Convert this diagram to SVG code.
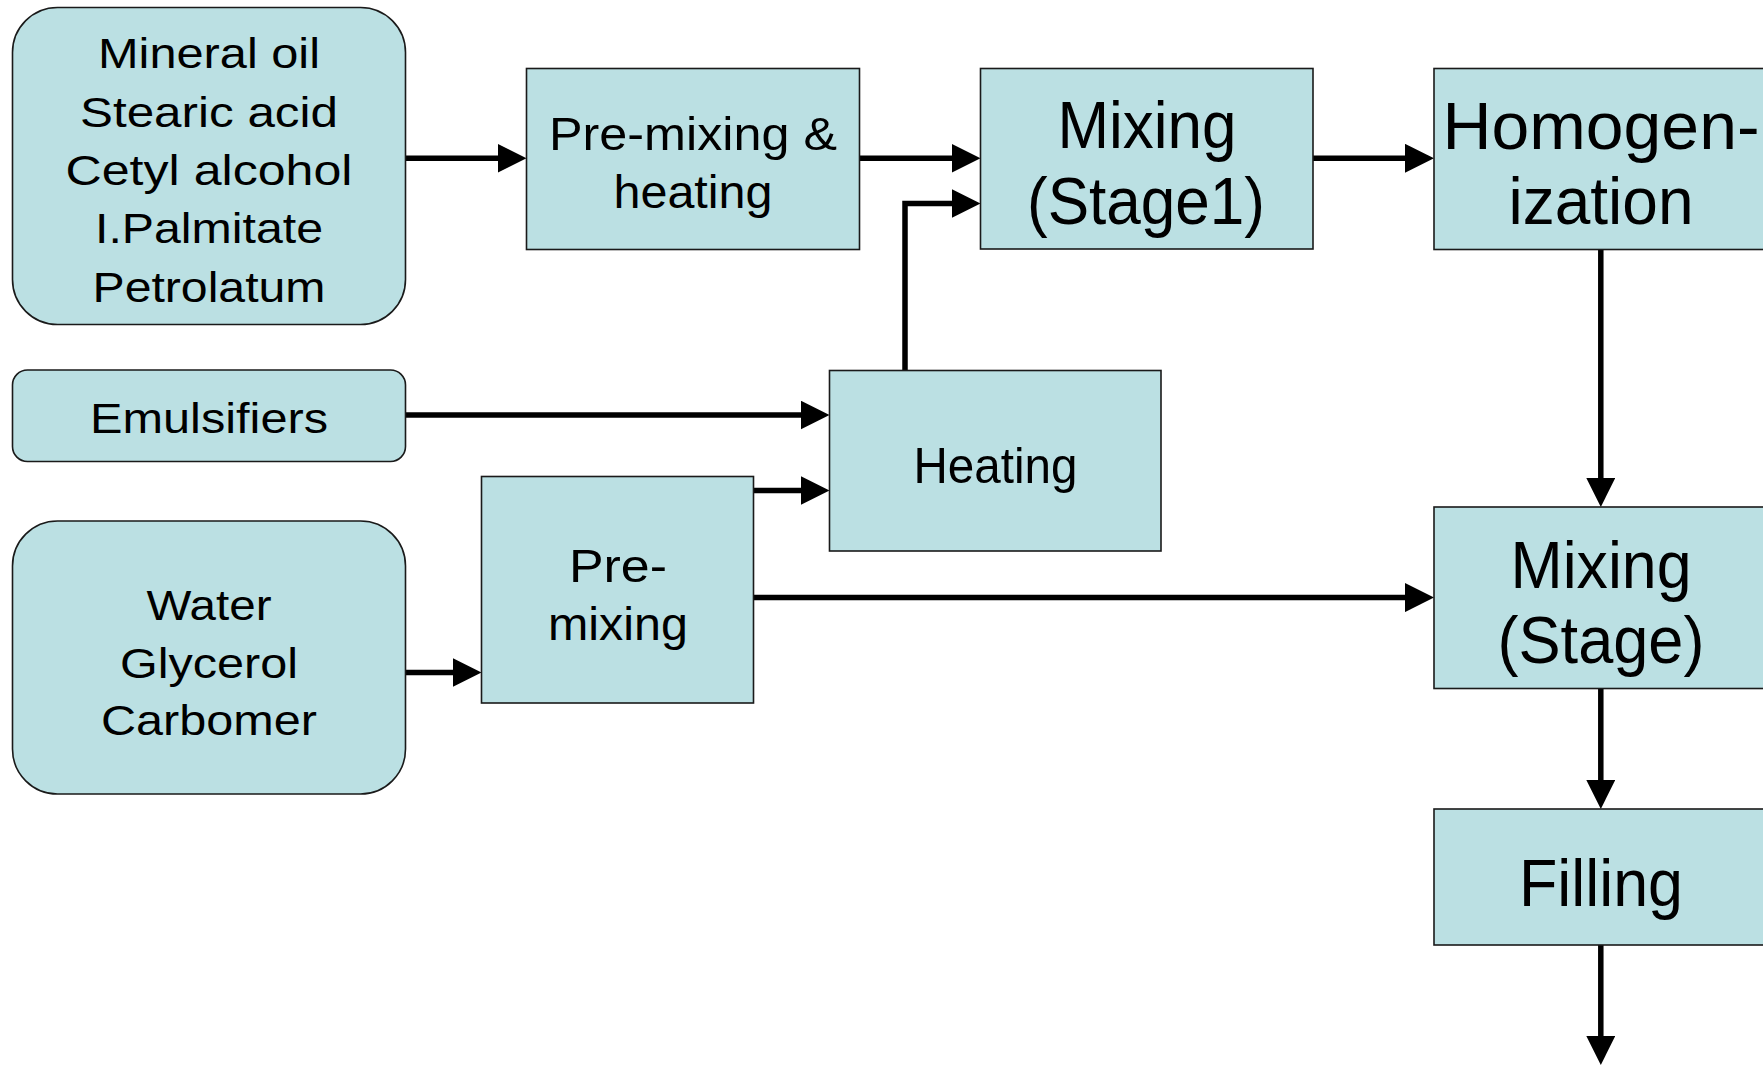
<svg xmlns="http://www.w3.org/2000/svg" width="1763" height="1067" viewBox="0 0 1763 1067">
<style>
.box{fill:#BBE0E3;stroke:#1a1a1a;stroke-width:1.6}
.t{font-family:"Liberation Sans",Arial,sans-serif;fill:#000;text-anchor:middle}
.s{font-size:42px}
.m{font-size:47px}
.l{font-size:66px}
.c{fill:none;stroke:#000;stroke-width:5.5;stroke-linecap:butt;stroke-linejoin:miter;marker-end:url(#ah)}
</style>
<defs>
<marker id="ah" markerUnits="userSpaceOnUse" viewBox="0 0 29 29" markerWidth="29" markerHeight="29" refX="21" refY="14.5" orient="auto">
<path d="M0,0 L29,14.5 L0,29 Z" fill="#000"/>
</marker>
</defs>
<rect width="1763" height="1067" fill="#fff"/>
<g id="connectors">
<path class="c" d="M405.5,158.3 H518.5"/>
<path class="c" d="M859.5,158.3 H972.5"/>
<path class="c" d="M905,370.5 V203.5 H972.5"/>
<path class="c" d="M1313,158.3 H1426"/>
<path class="c" d="M405.5,415 H821.5"/>
<path class="c" d="M753.5,490.5 H821.5"/>
<path class="c" d="M405.5,672.4 H473.5"/>
<path class="c" d="M753.5,597.6 H1426"/>
<path class="c" d="M1600.8,249.5 V499"/>
<path class="c" d="M1600.8,688.5 V801"/>
<path class="c" d="M1600.8,945 V1057"/>
</g>
<g id="oil-ingredients">
<rect class="box" x="12.5" y="7.5" width="393" height="317" rx="45" ry="45"/>
<text class="t s" x="209" y="68.3" textLength="222" lengthAdjust="spacingAndGlyphs">Mineral oil</text>
<text class="t s" x="209" y="126.7" textLength="258" lengthAdjust="spacingAndGlyphs">Stearic acid</text>
<text class="t s" x="209" y="185" textLength="287" lengthAdjust="spacingAndGlyphs">Cetyl alcohol</text>
<text class="t s" x="209" y="243.3" textLength="228" lengthAdjust="spacingAndGlyphs">I.Palmitate</text>
<text class="t s" x="209" y="301.7" textLength="233" lengthAdjust="spacingAndGlyphs">Petrolatum</text>
</g>
<g id="emulsifiers">
<rect class="box" x="12.5" y="370" width="393" height="91.5" rx="15" ry="15"/>
<text class="t s" x="209" y="433" textLength="238" lengthAdjust="spacingAndGlyphs">Emulsifiers</text>
</g>
<g id="water-ingredients">
<rect class="box" x="12.5" y="521" width="393" height="273" rx="45" ry="45"/>
<text class="t s" x="209" y="620" textLength="125" lengthAdjust="spacingAndGlyphs">Water</text>
<text class="t s" x="209" y="678" textLength="178" lengthAdjust="spacingAndGlyphs">Glycerol</text>
<text class="t s" x="209" y="735" textLength="216" lengthAdjust="spacingAndGlyphs">Carbomer</text>
</g>
<g id="premixing-heating">
<rect class="box" x="526.5" y="68.5" width="333" height="181"/>
<text class="t m" x="693" y="150.3" textLength="288" lengthAdjust="spacingAndGlyphs">Pre-mixing &amp;</text>
<text class="t m" x="693" y="208" textLength="159" lengthAdjust="spacingAndGlyphs">heating</text>
</g>
<g id="premixing">
<rect class="box" x="481.5" y="476.5" width="272" height="226.5"/>
<text class="t m" x="618" y="582" textLength="98" lengthAdjust="spacingAndGlyphs">Pre-</text>
<text class="t m" x="618" y="639.5" textLength="140" lengthAdjust="spacingAndGlyphs">mixing</text>
</g>
<g id="heating">
<rect class="box" x="829.5" y="370.5" width="331.5" height="180.5"/>
<text class="t" style="font-size:50px" x="995.5" y="483" textLength="164" lengthAdjust="spacingAndGlyphs">Heating</text>
</g>
<g id="mixing-stage1">
<rect class="box" x="980.5" y="68.5" width="332.5" height="180.5"/>
<text class="t l" x="1147" y="148" textLength="179" lengthAdjust="spacingAndGlyphs">Mixing</text>
<text class="t l" x="1146" y="223.7" textLength="238" lengthAdjust="spacingAndGlyphs">(Stage1)</text>
</g>
<g id="homogenization">
<rect class="box" x="1434" y="68.5" width="334" height="181"/>
<text class="t l" x="1601" y="148.7" textLength="317" lengthAdjust="spacingAndGlyphs">Homogen-</text>
<text class="t l" x="1601" y="223.7" textLength="185" lengthAdjust="spacingAndGlyphs">ization</text>
</g>
<g id="mixing-stage">
<rect class="box" x="1434" y="507" width="334" height="181.5"/>
<text class="t l" x="1601" y="588.3" textLength="181" lengthAdjust="spacingAndGlyphs">Mixing</text>
<text class="t l" x="1601" y="663.3" textLength="207" lengthAdjust="spacingAndGlyphs">(Stage)</text>
</g>
<g id="filling">
<rect class="box" x="1434" y="809" width="334" height="136"/>
<text class="t l" x="1601" y="906" textLength="164" lengthAdjust="spacingAndGlyphs">Filling</text>
</g>
</svg>
